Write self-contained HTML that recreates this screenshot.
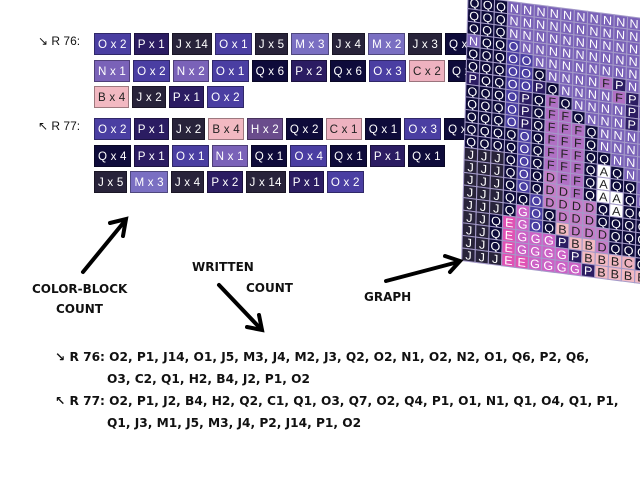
<!DOCTYPE html>
<html><head><meta charset="utf-8"><style>
body{margin:0;width:640px;height:480px;background:#fff;overflow:hidden;position:relative;font-family:"Liberation Sans",sans-serif}
.row{position:absolute;left:94px;display:flex;gap:3px}
.b{height:22px;line-height:22px;padding:0 3px;font-size:11.6px;color:#fff;letter-spacing:0.2px;box-sizing:border-box;border:1px solid rgba(0,0,0,.35)}
.lbl{position:absolute;font-size:12px;color:#111}
.hand{position:absolute;font-family:"DejaVu Sans",sans-serif;font-weight:bold;font-size:12px;color:#111}
.txt{position:absolute;left:55px;font-weight:bold;font-size:12.2px;color:#111;font-family:"DejaVu Sans",sans-serif;white-space:nowrap}
</style></head><body>
<div class="lbl" style="left:38px;top:34px">↘ R 76:</div>
<div class="lbl" style="left:38px;top:119px">↖ R 77:</div>
<div id="rows"></div>
<svg id="g" width="640" height="480" style="position:absolute;left:0;top:0"></svg>
<svg width="640" height="480" style="position:absolute;left:0;top:0">
<g stroke="#000" stroke-width="4" fill="none" stroke-linecap="round">
<line x1="83" y1="272" x2="124" y2="222"/><polyline points="110,223 126,219 123,236"/>
<line x1="219" y1="285" x2="259" y2="327"/><polyline points="247,327 262,330 259,315"/>
<line x1="386" y1="281" x2="458" y2="262"/><polyline points="445,256 460,261 450,272"/>
</g></svg>
<div class="hand" style="left:32px;top:282px">COLOR-BLOCK</div>
<div class="hand" style="left:56px;top:302px">COUNT</div>
<div class="hand" style="left:192px;top:260px">WRITTEN</div>
<div class="hand" style="left:246px;top:281px">COUNT</div>
<div class="hand" style="left:364px;top:290px">GRAPH</div>
<div class="txt" style="top:350px">↘ R 76: O2, P1, J14, O1, J5, M3, J4, M2, J3, Q2, O2, N1, O2, N2, O1, Q6, P2, Q6,</div>
<div class="txt" style="top:372px;left:107px">O3, C2, Q1, H2, B4, J2, P1, O2</div>
<div class="txt" style="top:394px">↖ R 77: O2, P1, J2, B4, H2, Q2, C1, Q1, O3, Q7, O2, Q4, P1, O1, N1, Q1, O4, Q1, P1,</div>
<div class="txt" style="top:416px;left:107px">Q1, J3, M1, J5, M3, J4, P2, J14, P1, O2</div>
<script>
var C={Q:'#0e0b3a',N:'#7a62b8',O:'#4a3ea2',P:'#2b1c62',J:'#28233a',F:'#b070c4',D:'#c47ec8',B:'#f2b9c2',A:'#ffffff',G:'#cc62c6',E:'#e052b4',C:'#eeb2c0',M:'#7a6fc2',H:'#6a4c8c'};
var dark={B:1,C:1,A:1,F:1,D:1};
var rows=[
[33,['O x 2','P x 1','J x 14','O x 1','J x 5','M x 3','J x 4','M x 2','J x 3','Q x 2']],
[60,['N x 1','O x 2','N x 2','O x 1','Q x 6','P x 2','Q x 6','O x 3','C x 2','Q x 1']],
[86,['B x 4','J x 2','P x 1','O x 2']],
[118,['O x 2','P x 1','J x 2','B x 4','H x 2','Q x 2','C x 1','Q x 1','O x 3','Q x 7']],
[145,['Q x 4','P x 1','O x 1','N x 1','Q x 1','O x 4','Q x 1','P x 1','Q x 1']],
[171,['J x 5','M x 3','J x 4','P x 2','J x 14','P x 1','O x 2']]];
var h='';
rows.forEach(function(r){h+='<div class="row" style="top:'+r[0]+'px">';r[1].forEach(function(t){var k=t[0];h+='<div class="b" style="background:'+C[k]+';color:'+(dark[k]?'#222':'#fff')+'">'+t+'</div>'});h+='</div>'});
document.getElementById('rows').innerHTML=h;
var G=["QQQNNNNNNNNNNN","QQQNNNNNNNNNNN","QQQNNNNNNNNNNN","NQQONNNNNNNNNN","QQQOONNNNNNNNN","QQQOOQNNNNFPNN","PQQOOPQNNNNFPN","QQQOPQFQNNNNPN","QQQOPQFFQNNNPN","QQQOPQFFFQNNNN","QQQQOQFFFQNNNN","QQQQOQFFFQQNNN","JJJQOQFFFQAQNN","JJJQOQDFFQAQQN","JJJQOQDDFQAAQN","JJJQQODDDDQAQQ","JJJQGOQDDDQQQQ","JJQEGOQBDDDQQQ","JJQEGGGPBBDQQQ","JJQEGGGGPBBBCQ","JJJEEGGGGPBBBB"];
var s='<g transform="matrix(13.3,1.7,-0.3,12.6,468,-4)">';
G.forEach(function(row,i){for(var j=0;j<row.length;j++){var k=row[j];s+='<rect x="'+j+'" y="'+i+'" width="1" height="1" fill="'+C[k]+'" stroke="#a49ac8" stroke-width="0.08"/>';s+='<text x="'+(j+0.5)+'" y="'+(i+0.85)+'" font-size="0.95" text-anchor="middle" font-family="Liberation Sans" fill="'+(dark[k]?'#222':'#fff')+'">'+k+'</text>'}});
s+='</g>';
document.getElementById('g').innerHTML=s;
</script>
</body></html>
